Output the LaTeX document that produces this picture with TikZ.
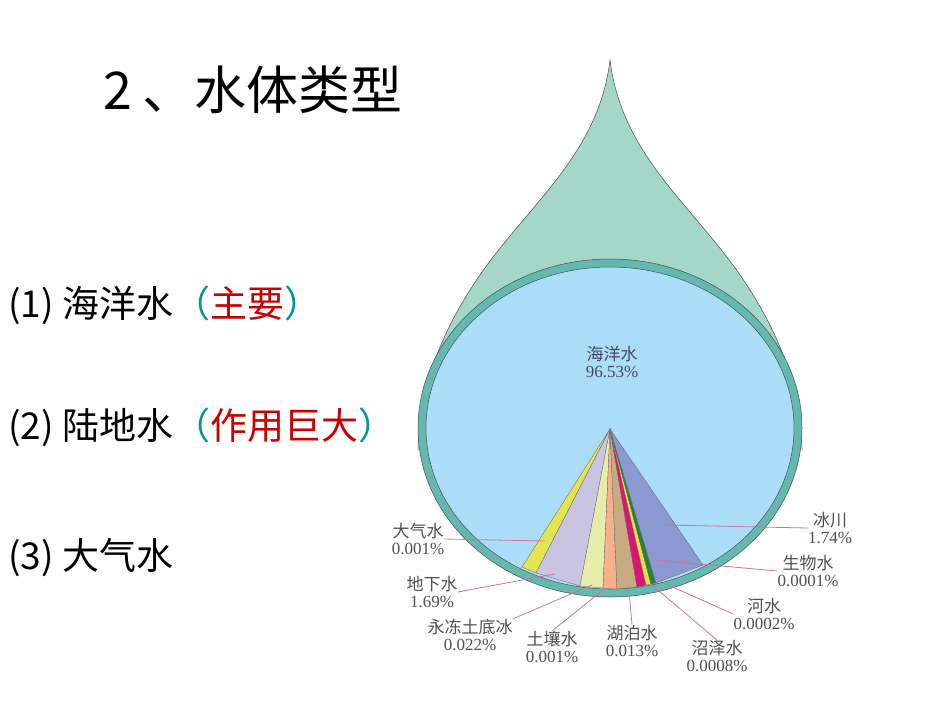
\documentclass[tikz,border=0pt]{standalone}
\usepackage{fontspec}
\setmainfont{Liberation Serif}
\newfontfamily\cjk{Noto Sans CJK SC}
\definecolor{ring}{RGB}{100,185,175}
\definecolor{drop}{RGB}{165,215,200}
\definecolor{sea}{RGB}{170,222,248}
\definecolor{lbl}{RGB}{80,80,80}
\definecolor{pinkline}{RGB}{215,110,160}
\definecolor{tealp}{RGB}{0,150,150}
\definecolor{redt}{RGB}{200,0,0}
\begin{document}
\begin{tikzpicture}[x=1pt,y=-1pt,
  lab/.style={text=lbl,align=center,font=\fontsize{17}{17}\selectfont,inner sep=0pt},
  lead/.style={pinkline,line width=0.8pt},
  slice/.style={draw=black!60,line width=0.3pt},
  big/.style={font=\cjk\fontsize{37}{37}\selectfont,anchor=west,inner sep=0pt}]
\useasboundingbox (0,0) rectangle (950,713);
% drop
\fill[drop,draw=black!70,line width=0.5pt] (610,60) .. controls (598,160) and (520,210) .. (470,290)
  .. controls (435,345) and (418,400) .. (418,450)
  arc[start angle=180,end angle=360,x radius=192,y radius=169]
  .. controls (802,400) and (785,345) .. (750,290)
  .. controls (700,210) and (622,160) .. (610,60) -- cycle;
\fill[ring,draw=black!70,line width=0.5pt] (610,428) ellipse[x radius=192,y radius=169];
\fill[sea,draw=black!70,line width=0.5pt] (610,428) ellipse[x radius=184,y radius=161];
\coordinate (ap) at (610,429);
\fill[slice,fill={rgb,255:red,228;green,228;blue,80}] (ap)--(522,567)--(536,573)--cycle;
\fill[slice,fill={rgb,255:red,200;green,196;blue,226}] (ap)--(536,573)--(580,586)--cycle;
\fill[slice,fill={rgb,255:red,230;green,236;blue,170}] (ap)--(580,586)--(603,588)--cycle;
\fill[slice,fill={rgb,255:red,246;green,176;blue,140}] (ap)--(603,588)--(617,589)--cycle;
\fill[slice,fill={rgb,255:red,200;green,170;blue,130}] (ap)--(617,589)--(637,587)--cycle;
\fill[slice,fill={rgb,255:red,220;green,20;blue,120}] (ap)--(637,587)--(646,585)--cycle;
\fill[slice,fill={rgb,255:red,235;green,225;blue,60}] (ap)--(646,585)--(651,584)--cycle;
\fill[slice,fill={rgb,255:red,40;green,130;blue,60}] (ap)--(651,584)--(656,583)--cycle;
\fill[slice,fill={rgb,255:red,140;green,152;blue,210}] (ap)--(656,583)--(703,565)--cycle;
% ocean label
\node[lab,text=lbl!90!blue] (sea) at (612,362) {{\cjk 海洋水}\\96.53\%};
% labels
\node[lab] (l1) at (830,528) {{\cjk 冰川}\\1.74\%};
\node[lab] (l2) at (418,539) {{\cjk 大气水}\\0.001\%};
\node[lab] (l3) at (432,592) {{\cjk 地下水}\\1.69\%};
\node[lab] (l4) at (470,635) {{\cjk 永冻土底冰}\\0.022\%};
\node[lab] (l5) at (552,647) {{\cjk 土壤水}\\0.001\%};
\node[lab] (l6) at (632,641) {{\cjk 湖泊水}\\0.013\%};
\node[lab] (l7) at (717,656) {{\cjk 沼泽水}\\0.0008\%};
\node[lab] (l8) at (764,614) {{\cjk 河水}\\0.0002\%};
\node[lab] (l9) at (808,571) {{\cjk 生物水}\\0.0001\%};
\coordinate (p1) at (665,525); \coordinate (p2) at (545,541);
\coordinate (p3) at (555,574); \coordinate (p4) at (592,585);
\coordinate (p5) at (603,590); \coordinate (p6) at (629,590);
\coordinate (p7) at (652,585); \coordinate (p8) at (668,585);
\coordinate (p9) at (655,560);
\draw[lead] (p1) -- (l1.west);
\draw[lead] (p2) -- (l2.east);
\draw[lead] (p3) -- (l3.east);
\draw[lead] (p4) -- (l4.north east);
\draw[lead] (p5) -- (l5.north);
\draw[lead] (p6) -- (l6.north);
\draw[lead] (p7) -- (l7.north);
\draw[lead] (p8) -- (l8.west);
\draw[lead] (p9) -- (l9.west);
% texts
\node[font=\cjk\fontsize{52}{52}\selectfont,anchor=west,inner sep=0pt] (title) at (103,90) {2\hspace{10pt}、水体类型};
\node[big] (t1) at (8,305) {(1) 海洋水{\color{tealp}（}{\color{redt}主要}{\color{tealp}）}};
\node[big] (t2) at (8,427) {(2) 陆地水{\color{tealp}（}{\color{redt}作用巨大}{\color{tealp}）}};
\node[big] (t3) at (8,558) {(3) 大气水};
\end{tikzpicture}
\end{document}
